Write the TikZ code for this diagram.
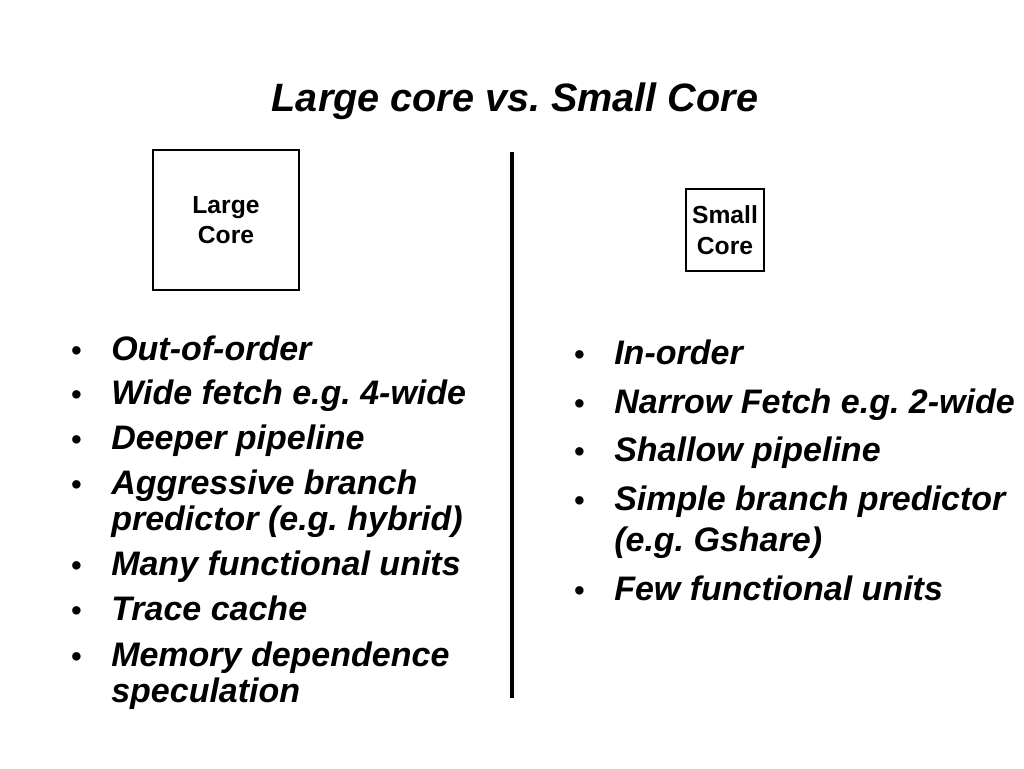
\documentclass[tikz,border=0pt]{standalone}
\usepackage{fontspec}
\setmainfont{Liberation Sans}
\frenchspacing
\begin{document}
\begin{tikzpicture}[x=0.75pt,y=-0.75pt,
  item/.style={anchor=base west,inner sep=0pt,font=\frenchspacing\fontsize{25.5pt}{30pt}\selectfont\bfseries\itshape},
  bul/.style={anchor=base west,inner sep=0pt,font=\fontsize{22pt}{26pt}\selectfont\bfseries},
  core/.style={draw,line width=2.2pt,align=center,inner sep=0pt,font=\fontsize{18.5pt}{23pt}\selectfont\bfseries}]
\useasboundingbox (0,0) rectangle (1024,768);
\node[anchor=base,inner sep=0pt,font=\frenchspacing\fontsize{29.7pt}{34pt}\selectfont\bfseries\itshape] (title) at (515,111) {Large core vs. Small Core};
\node[core,minimum width=109.5pt,minimum height=105pt] (large) at (226,220) {Large\\Core};
\node[core,minimum width=58.5pt,minimum height=61.5pt] (small) at (725,230) {Small\\Core};
\coordinate (vtop) at (512,152);
\coordinate (vbot) at (512,698);
\draw[line width=3.2pt] (vtop) -- (vbot);
% left
\node[bul] (lb1) at (71,360) {•};
\node[item] (l1) at (111,360) {Out-of-order};
\node[bul] (lb2) at (71,404) {•};
\node[item] (l2) at (111,404) {Wide fetch e.g. 4-wide};
\node[bul] (lb3) at (71,449) {•};
\node[item] (l3) at (111,449) {Deeper pipeline};
\node[bul] (lb4) at (71,494) {•};
\node[item] (l4) at (111,494) {Aggressive branch};
\node[item] (l4b) at (111,530) {predictor (e.g. hybrid)};
\node[bul] (lb5) at (71,575) {•};
\node[item] (l5) at (111,575) {Many functional units};
\node[bul] (lb6) at (71,620) {•};
\node[item] (l6) at (111,620) {Trace cache};
\node[bul] (lb7) at (71,666) {•};
\node[item] (l7) at (111,666) {Memory dependence};
\node[item] (l7b) at (111,702) {speculation};
% right
\node[bul] (rb1) at (574,364) {•};
\node[item] (r1) at (614,364) {In-order};
\node[bul] (rb2) at (574,413) {•};
\node[item] (r2) at (614,413) {Narrow Fetch e.g. 2-wide};
\node[bul] (rb3) at (574,461) {•};
\node[item] (r3) at (614,461) {Shallow pipeline};
\node[bul] (rb4) at (574,510) {•};
\node[item] (r4) at (614,510) {Simple branch predictor};
\node[item] (r4b) at (614,551) {(e.g. Gshare)};
\node[bul] (rb5) at (574,600) {•};
\node[item] (r5) at (614,600) {Few functional units};
\end{tikzpicture}
\end{document}
